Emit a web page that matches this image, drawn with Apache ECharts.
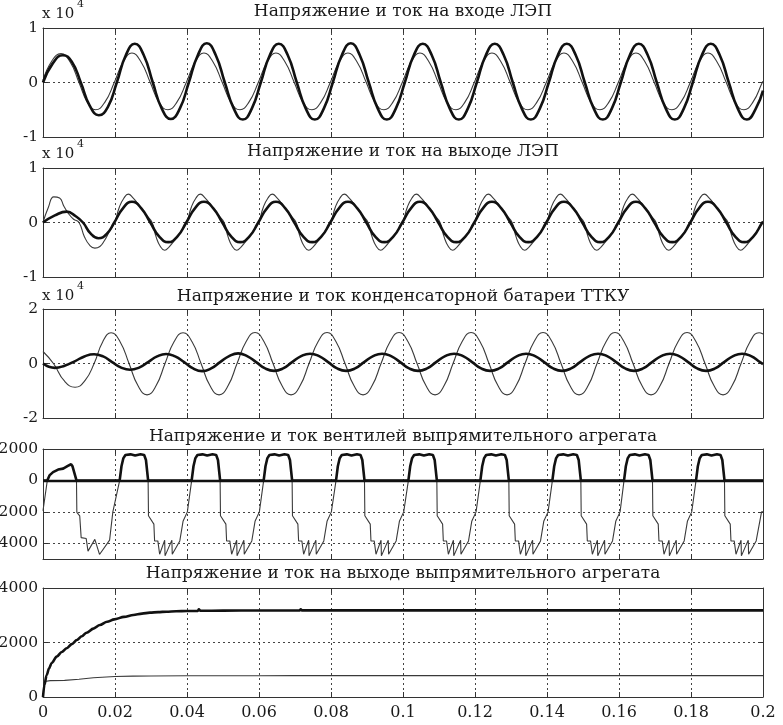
<!DOCTYPE html>
<html>
<head>
<meta charset="utf-8">
<script src="https://cdn.jsdelivr.net/npm/echarts@6/dist/echarts.min.js"></script>
<style>html,body{margin:0;padding:0;background:#fff}#c{width:783px;height:725px}</style>
</head>
<body>
<div id="c"></div>
<script>
// ---------- DATA (time in s) ----------
const titles = [
  'Напряжение и ток на входе ЛЭП',
  'Напряжение и ток на выходе ЛЭП',
  'Напряжение и ток конденсаторной батареи ТТКУ',
  'Напряжение и ток вентилей выпрямительного агрегата',
  'Напряжение и ток на выходе выпрямительного агрегата'
];
const xTicks = [0, 0.02, 0.04, 0.06, 0.08, 0.1, 0.12, 0.14, 0.16, 0.18, 0.2];
const yTicks1 = [-1, 0, 1];
const yTicks2 = [-1, 0, 1];
const yTicks3 = [-2, 0, 2];
const yTicks4 = [-4000, -2000, 0, 2000];
const yTicks5 = [0, 2000, 4000];

// Plot 1 (x 10^4)
const inputThin = [[0,0.04],[0.0025,0.40],[0.005,0.53],[0.0075,0.38],[0.0100,0],[0.0123,-0.36],[0.0146,-0.50],[0.0172,-0.36],[0.0198,0],
 [0.0223,0.38],[0.0247,0.54],[0.0272,0.38],[0.0298,0],[0.0322,-0.36],[0.0347,-0.50],[0.0372,-0.36],[0.0398,0],
 [0.0423,0.38],[0.0447,0.54],[0.0472,0.38],[0.0498,0],[0.0522,-0.36],[0.0547,-0.50],[0.0572,-0.36],[0.0598,0],
 [0.0623,0.38],[0.0647,0.54],[0.0672,0.38],[0.0698,0],[0.0722,-0.36],[0.0747,-0.50],[0.0772,-0.36],[0.0798,0],
 [0.0823,0.38],[0.0847,0.54],[0.0872,0.38],[0.0898,0],[0.0922,-0.36],[0.0947,-0.50],[0.0972,-0.36],[0.0998,0],
 [0.1023,0.38],[0.1047,0.54],[0.1072,0.38],[0.1098,0],[0.1122,-0.36],[0.1147,-0.50],[0.1172,-0.36],[0.1198,0],
 [0.1223,0.38],[0.1247,0.54],[0.1272,0.38],[0.1298,0],[0.1322,-0.36],[0.1347,-0.50],[0.1372,-0.36],[0.1398,0],
 [0.1423,0.38],[0.1447,0.54],[0.1472,0.38],[0.1498,0],[0.1522,-0.36],[0.1547,-0.50],[0.1572,-0.36],[0.1598,0],
 [0.1623,0.38],[0.1647,0.54],[0.1672,0.38],[0.1698,0],[0.1722,-0.36],[0.1747,-0.50],[0.1772,-0.36],[0.1798,0],
 [0.1823,0.38],[0.1847,0.54],[0.1872,0.38],[0.1898,0],[0.1922,-0.36],[0.1947,-0.50],[0.1972,-0.36],[0.1998,0],[0.2,0.02]];
const inputThick = [[0,0],[0.0028,0.36],[0.0055,0.50],[0.008,0.38],[0.0105,0],[0.013,-0.43],[0.0155,-0.60],[0.018,-0.45],[0.0205,0],
 [0.023,0.50],[0.0255,0.71],[0.028,0.50],[0.0305,0],[0.033,-0.48],[0.0355,-0.67],[0.038,-0.48],[0.0405,0],
 [0.043,0.50],[0.0455,0.72],[0.048,0.50],[0.0505,0],[0.053,-0.48],[0.0555,-0.68],[0.058,-0.48],[0.0605,0],
 [0.063,0.50],[0.0655,0.71],[0.068,0.50],[0.0705,0],[0.073,-0.48],[0.0755,-0.68],[0.078,-0.48],[0.0805,0],
 [0.083,0.50],[0.0855,0.72],[0.088,0.50],[0.0905,0],[0.093,-0.48],[0.0955,-0.68],[0.098,-0.48],[0.1005,0],
 [0.103,0.50],[0.1055,0.71],[0.108,0.50],[0.1105,0],[0.113,-0.48],[0.1155,-0.68],[0.118,-0.48],[0.1205,0],
 [0.123,0.50],[0.1255,0.71],[0.128,0.50],[0.1305,0],[0.133,-0.48],[0.1355,-0.68],[0.138,-0.48],[0.1405,0],
 [0.143,0.50],[0.1455,0.71],[0.148,0.50],[0.1505,0],[0.153,-0.48],[0.1555,-0.68],[0.158,-0.48],[0.1605,0],
 [0.163,0.50],[0.1655,0.71],[0.168,0.50],[0.1705,0],[0.173,-0.48],[0.1755,-0.68],[0.178,-0.48],[0.1805,0],
 [0.183,0.50],[0.1855,0.71],[0.188,0.50],[0.1905,0],[0.193,-0.48],[0.1955,-0.68],[0.198,-0.48],[0.2,-0.15]];

// Plot 2 (x 10^4)
const outputThin = [[0,0],[0.0015,0.28],[0.003,0.47],[0.0046,0.45],[0.0058,0.30],[0.007,0.17],[0.0085,0.06],[0.0100,0],[0.0115,-0.26],[0.013,-0.42],[0.0144,-0.47],[0.0158,-0.44],[0.017,-0.34],[0.0185,-0.16],[0.0199,0],
 [0.0212,0.28],[0.0225,0.45],[0.0237,0.52],[0.025,0.45],[0.0265,0.33],[0.0285,0.15],[0.0303,0],[0.0314,-0.26],[0.0326,-0.44],[0.0338,-0.51],[0.035,-0.45],[0.0365,-0.33],[0.0385,-0.15],[0.0399,0],
 [0.0412,0.28],[0.0425,0.45],[0.0437,0.52],[0.045,0.45],[0.0465,0.33],[0.0485,0.15],[0.0503,0],[0.0514,-0.26],[0.0526,-0.44],[0.0538,-0.51],[0.055,-0.45],[0.0565,-0.33],[0.0585,-0.15],[0.0599,0],
 [0.0612,0.28],[0.0625,0.45],[0.0637,0.52],[0.065,0.45],[0.0665,0.33],[0.0685,0.15],[0.0703,0],[0.0714,-0.26],[0.0726,-0.44],[0.0738,-0.51],[0.075,-0.45],[0.0765,-0.33],[0.0785,-0.15],[0.0799,0],
 [0.0812,0.28],[0.0825,0.45],[0.0837,0.52],[0.085,0.45],[0.0865,0.33],[0.0885,0.15],[0.0903,0],[0.0914,-0.26],[0.0926,-0.44],[0.0938,-0.51],[0.095,-0.45],[0.0965,-0.33],[0.0985,-0.15],[0.0999,0],
 [0.1012,0.28],[0.1025,0.45],[0.1037,0.52],[0.105,0.45],[0.1065,0.33],[0.1085,0.15],[0.1103,0],[0.1114,-0.26],[0.1126,-0.44],[0.1138,-0.51],[0.115,-0.45],[0.1165,-0.33],[0.1185,-0.15],[0.1199,0],
 [0.1212,0.28],[0.1225,0.45],[0.1237,0.52],[0.125,0.45],[0.1265,0.33],[0.1285,0.15],[0.1303,0],[0.1314,-0.26],[0.1326,-0.44],[0.1338,-0.51],[0.135,-0.45],[0.1365,-0.33],[0.1385,-0.15],[0.1399,0],
 [0.1412,0.28],[0.1425,0.45],[0.1437,0.52],[0.145,0.45],[0.1465,0.33],[0.1485,0.15],[0.1503,0],[0.1514,-0.26],[0.1526,-0.44],[0.1538,-0.51],[0.155,-0.45],[0.1565,-0.33],[0.1585,-0.15],[0.1599,0],
 [0.1612,0.28],[0.1625,0.45],[0.1637,0.52],[0.165,0.45],[0.1665,0.33],[0.1685,0.15],[0.1703,0],[0.1714,-0.26],[0.1726,-0.44],[0.1738,-0.51],[0.175,-0.45],[0.1765,-0.33],[0.1785,-0.15],[0.1799,0],
 [0.1812,0.28],[0.1825,0.45],[0.1837,0.52],[0.185,0.45],[0.1865,0.33],[0.1885,0.15],[0.1903,0],[0.1914,-0.26],[0.1926,-0.44],[0.1938,-0.51],[0.195,-0.45],[0.1965,-0.33],[0.1985,-0.15],[0.1999,0],[0.2,0.02]];
const outputThick = [[0,0],[0.0033,0.13],[0.0066,0.20],[0.009,0.12],[0.0111,0],[0.0132,-0.20],[0.0154,-0.29],[0.0177,-0.21],[0.0198,0],
 [0.0223,0.27],[0.0247,0.38],[0.0272,0.27],[0.0298,0],[0.0323,-0.26],[0.0348,-0.36],[0.0373,-0.26],[0.0398,0],
 [0.0423,0.27],[0.0447,0.38],[0.0472,0.27],[0.0498,0],[0.0523,-0.26],[0.0548,-0.36],[0.0573,-0.26],[0.0598,0],
 [0.0623,0.27],[0.0647,0.38],[0.0672,0.27],[0.0698,0],[0.0723,-0.26],[0.0748,-0.36],[0.0773,-0.26],[0.0798,0],
 [0.0823,0.27],[0.0847,0.38],[0.0872,0.27],[0.0898,0],[0.0923,-0.26],[0.0948,-0.36],[0.0973,-0.26],[0.0998,0],
 [0.1023,0.27],[0.1047,0.38],[0.1072,0.27],[0.1098,0],[0.1123,-0.26],[0.1148,-0.36],[0.1173,-0.26],[0.1198,0],
 [0.1223,0.27],[0.1247,0.38],[0.1272,0.27],[0.1298,0],[0.1323,-0.26],[0.1348,-0.36],[0.1373,-0.26],[0.1398,0],
 [0.1423,0.27],[0.1447,0.38],[0.1472,0.27],[0.1498,0],[0.1523,-0.26],[0.1548,-0.36],[0.1573,-0.26],[0.1598,0],
 [0.1623,0.27],[0.1647,0.38],[0.1672,0.27],[0.1698,0],[0.1723,-0.26],[0.1748,-0.36],[0.1773,-0.26],[0.1798,0],
 [0.1823,0.27],[0.1847,0.38],[0.1872,0.27],[0.1898,0],[0.1923,-0.26],[0.1948,-0.36],[0.1973,-0.26],[0.1998,0],[0.2,0.01]];

// Plot 3 (x 10^4)
const capThin = [[0,0.44],[0.0029,0],[0.006,-0.65],[0.0089,-0.87],[0.0117,-0.62],[0.0142,0],[0.0166,0.80],[0.0189,1.13],[0.0214,0.80],[0.0239,0],[0.0264,-0.82],[0.0289,-1.15],[0.0314,-0.82],
 [0.0339,0],[0.0364,0.80],[0.0389,1.13],[0.0414,0.80],[0.0439,0],[0.0464,-0.82],[0.0489,-1.15],[0.0514,-0.82],
 [0.0539,0],[0.0564,0.80],[0.0589,1.14],[0.0614,0.80],[0.0639,0],[0.0664,-0.82],[0.0689,-1.15],[0.0714,-0.82],
 [0.0739,0],[0.0764,0.80],[0.0789,1.14],[0.0814,0.80],[0.0839,0],[0.0864,-0.82],[0.0889,-1.15],[0.0914,-0.82],
 [0.0939,0],[0.0964,0.80],[0.0989,1.14],[0.1014,0.80],[0.1039,0],[0.1064,-0.82],[0.1089,-1.15],[0.1114,-0.82],
 [0.1139,0],[0.1164,0.80],[0.1189,1.14],[0.1214,0.80],[0.1239,0],[0.1264,-0.82],[0.1289,-1.15],[0.1314,-0.82],
 [0.1339,0],[0.1364,0.80],[0.1389,1.14],[0.1414,0.80],[0.1439,0],[0.1464,-0.82],[0.1489,-1.15],[0.1514,-0.82],
 [0.1539,0],[0.1564,0.80],[0.1589,1.14],[0.1614,0.80],[0.1639,0],[0.1664,-0.82],[0.1689,-1.15],[0.1714,-0.82],
 [0.1739,0],[0.1764,0.80],[0.1789,1.14],[0.1814,0.80],[0.1839,0],[0.1864,-0.82],[0.1889,-1.15],[0.1914,-0.82],
 [0.1939,0],[0.1964,0.80],[0.1989,1.13],[0.2,1.08]];
const capThick = [[0,0],[0.0033,-0.16],[0.006,-0.08],[0.0088,0.08],[0.0115,0.26],[0.0142,0.34],[0.0167,0.26],[0.0192,0.05],[0.0217,-0.15],[0.0242,-0.23],[0.0267,-0.15],
 [0.0292,0.05],[0.0317,0.26],[0.0342,0.35],[0.0367,0.26],[0.0392,0.05],[0.0417,-0.18],[0.0442,-0.28],[0.0467,-0.18],
 [0.0492,0.05],[0.0517,0.27],[0.0542,0.37],[0.0567,0.27],[0.0592,0.05],[0.0617,-0.18],[0.0642,-0.27],[0.0667,-0.18],
 [0.0692,0.05],[0.0717,0.27],[0.0742,0.36],[0.0767,0.27],[0.0792,0.05],[0.0817,-0.18],[0.0842,-0.27],[0.0867,-0.18],
 [0.0892,0.05],[0.0917,0.27],[0.0942,0.36],[0.0967,0.27],[0.0992,0.05],[0.1017,-0.18],[0.1042,-0.27],[0.1067,-0.18],
 [0.1092,0.05],[0.1117,0.27],[0.1142,0.36],[0.1167,0.27],[0.1192,0.05],[0.1217,-0.18],[0.1242,-0.27],[0.1267,-0.18],
 [0.1292,0.05],[0.1317,0.27],[0.1342,0.36],[0.1367,0.27],[0.1392,0.05],[0.1417,-0.18],[0.1442,-0.27],[0.1467,-0.18],
 [0.1492,0.05],[0.1517,0.27],[0.1542,0.36],[0.1567,0.27],[0.1592,0.05],[0.1617,-0.18],[0.1642,-0.27],[0.1667,-0.18],
 [0.1692,0.05],[0.1717,0.27],[0.1742,0.36],[0.1767,0.27],[0.1792,0.05],[0.1817,-0.18],[0.1842,-0.27],[0.1867,-0.18],
 [0.1892,0.05],[0.1917,0.27],[0.1942,0.36],[0.1967,0.27],[0.1992,0.05],[0.2,-0.02]];

// Plot 4
const valveThin = [[0,-1930],[0.0012,0],[0.0093,0],[0.0094,-2030],[0.0102,-2250],[0.0106,-3640],[0.012,-3700],[0.0125,-4500],[0.0144,-3750],[0.0157,-4710],[0.0185,-3800],[0.0194,-2000],[0.0213,0],
 [0.0292,0],[0.0293,-2250],[0.0308,-2780],[0.031,-3850],[0.0319,-3850],[0.0324,-4700],[0.0338,-3800],[0.0339,-4800],[0.0358,-3800],[0.0359,-4700],[0.038,-3850],[0.0389,-2600],[0.0401,-2000],[0.0413,0],
 [0.0492,0],[0.0493,-2250],[0.0508,-2780],[0.051,-3850],[0.0519,-3850],[0.0524,-4700],[0.0538,-3800],[0.0539,-4800],[0.0558,-3800],[0.0559,-4700],[0.058,-3850],[0.0589,-2600],[0.0601,-2000],[0.0613,0],
 [0.0692,0],[0.0693,-2250],[0.0708,-2780],[0.071,-3850],[0.0719,-3850],[0.0724,-4700],[0.0738,-3800],[0.0739,-4800],[0.0758,-3800],[0.0759,-4700],[0.078,-3850],[0.0789,-2600],[0.0801,-2000],[0.0814,0],
 [0.0893,0],[0.0894,-2250],[0.0909,-2780],[0.0911,-3850],[0.092,-3850],[0.0925,-4700],[0.0939,-3800],[0.094,-4800],[0.0959,-3800],[0.096,-4700],[0.0981,-3850],[0.099,-2600],[0.1002,-2000],[0.1015,0],
 [0.1094,0],[0.1095,-2250],[0.111,-2780],[0.1112,-3850],[0.1121,-3850],[0.1126,-4700],[0.114,-3800],[0.1141,-4800],[0.116,-3800],[0.1161,-4700],[0.1182,-3850],[0.1191,-2600],[0.1203,-2000],[0.1215,0],
 [0.1294,0],[0.1295,-2250],[0.131,-2780],[0.1312,-3850],[0.1321,-3850],[0.1326,-4700],[0.134,-3800],[0.1341,-4800],[0.136,-3800],[0.1361,-4700],[0.1382,-3850],[0.1391,-2600],[0.1403,-2000],[0.1415,0],
 [0.1494,0],[0.1495,-2250],[0.151,-2780],[0.1512,-3850],[0.1521,-3850],[0.1526,-4700],[0.154,-3800],[0.1541,-4800],[0.156,-3800],[0.1561,-4700],[0.1582,-3850],[0.1591,-2600],[0.1603,-2000],[0.1614,0],
 [0.1693,0],[0.1694,-2250],[0.1709,-2780],[0.1711,-3850],[0.172,-3850],[0.1725,-4700],[0.1739,-3800],[0.174,-4800],[0.1759,-3800],[0.176,-4700],[0.1781,-3850],[0.179,-2600],[0.1802,-2000],[0.1814,0],
 [0.1893,0],[0.1894,-2250],[0.1909,-2780],[0.1911,-3850],[0.192,-3850],[0.1925,-4700],[0.1939,-3800],[0.194,-4800],[0.1959,-3800],[0.196,-4700],[0.1981,-3850],[0.1996,-2000],[0.2,-2000]];
const valveThick = [[0,0],[0.0012,0],[0.0018,320],[0.0028,530],[0.0042,690],[0.0056,750],[0.0069,920],[0.0078,1030],[0.0082,900],[0.0093,0],
 [0.0213,0],[0.0218,900],[0.0223,1400],[0.0229,1620],[0.0243,1660],[0.0256,1580],[0.0271,1660],[0.0281,1620],[0.0286,1300],[0.0292,0],
 [0.0413,0],[0.0418,900],[0.0423,1400],[0.0429,1620],[0.0443,1660],[0.0456,1580],[0.0471,1660],[0.0481,1620],[0.0486,1300],[0.0492,0],
 [0.0613,0],[0.0618,900],[0.0623,1400],[0.0629,1620],[0.0643,1660],[0.0656,1580],[0.0671,1660],[0.0681,1620],[0.0686,1300],[0.0692,0],
 [0.0814,0],[0.0819,900],[0.0824,1400],[0.083,1620],[0.0844,1660],[0.0857,1580],[0.0872,1660],[0.0882,1620],[0.0887,1300],[0.0893,0],
 [0.1015,0],[0.102,900],[0.1025,1400],[0.1031,1620],[0.1045,1660],[0.1058,1580],[0.1073,1660],[0.1083,1620],[0.1088,1300],[0.1094,0],
 [0.1215,0],[0.122,900],[0.1225,1400],[0.1231,1620],[0.1245,1660],[0.1258,1580],[0.1273,1660],[0.1283,1620],[0.1288,1300],[0.1294,0],
 [0.1415,0],[0.142,900],[0.1425,1400],[0.1431,1620],[0.1445,1660],[0.1458,1580],[0.1473,1660],[0.1483,1620],[0.1488,1300],[0.1494,0],
 [0.1614,0],[0.1619,900],[0.1624,1400],[0.163,1620],[0.1644,1660],[0.1657,1580],[0.1672,1660],[0.1682,1620],[0.1687,1300],[0.1693,0],
 [0.1814,0],[0.1819,900],[0.1824,1400],[0.183,1620],[0.1844,1660],[0.1857,1580],[0.1872,1660],[0.1882,1620],[0.1887,1300],[0.1893,0],[0.2,0]];

// Plot 5
const rectThin = [[0,560],[0.002,600],[0.006,610],[0.01,650],[0.014,705],[0.02,750],[0.025,765],[0.03,772],[0.04,778],[0.05,782],[0.06,780],[0.07,786],[0.08,784],[0.09,788],[0.1,786],[0.11,790],[0.12,786],[0.13,788],[0.14,786],[0.15,790],[0.16,786],[0.17,788],[0.18,786],[0.19,786],[0.2,786]];
const rectThick = [[0,0],[0.0004,450],[0.001,800],[0.0017,1050],[0.0024,1250],[0.0038,1480],[0.0052,1650],[0.0066,1790],[0.008,1940],[0.0094,2090],[0.0108,2230],[0.0121,2360],[0.014,2510],[0.0158,2640],[0.0178,2760],[0.0198,2850],[0.0225,2940],[0.0251,3010],[0.0275,3060],[0.0297,3095],[0.032,3115],[0.0343,3130],[0.037,3145],[0.04,3155],[0.043,3160],[0.0433,3215],[0.0437,3165],[0.05,3170],[0.06,3175],[0.0713,3178],[0.0716,3215],[0.0719,3178],[0.09,3180],[0.1,3180],[0.12,3180],[0.14,3180],[0.16,3180],[0.18,3180],[0.2,3180]];

// ---------- LAYOUT / STYLE ----------
const FONT = 'DejaVu Serif';
const TXT = '#1a1a1a';
const AX = '#333';
const gridTops = [28, 168, 309, 449, 588];
const gridHeights = [109, 109, 109, 110, 109];
const yRanges = [[-1, 1, yTicks1], [-1, 1, yTicks2], [-2, 2, yTicks3], [-5000, 2000, yTicks4], [0, 4000, yTicks5]];
const plots = [
  [inputThin, inputThick, true],
  [outputThin, outputThick, true],
  [capThin, capThick, true],
  [valveThin, valveThick, false],
  [rectThin, rectThick, false]
];

const grid = [], xAxis = [], yAxis = [], series = [], title = [];
for (let i = 0; i < 5; i++) {
  grid.push({ left: 43, width: 720, top: gridTops[i], height: gridHeights[i], containLabel: false, outerBoundsMode: 'none' });
  const split = { show: true, lineStyle: { color: '#444', width: 1, type: [2, 3] } };
  xAxis.push({
    type: 'value', gridIndex: i, min: 0, max: 0.2, position: 'bottom',
    axisTick: { show: true, inside: true, length: 5, customValues: xTicks, lineStyle: { color: AX } },
    axisLine: { show: true, onZero: false, lineStyle: { color: AX, width: 1 } },
    axisLabel: { show: i === 4, customValues: xTicks, margin: 8, color: TXT, fontFamily: FONT, fontSize: 16, formatter: v => String(+(+v).toFixed(2)) },
    splitLine: split
  });
  xAxis.push({
    type: 'value', gridIndex: i, min: 0, max: 0.2, position: 'top',
    axisTick: { show: true, inside: true, length: 5, customValues: xTicks, lineStyle: { color: AX } },
    axisLine: { show: true, onZero: false, lineStyle: { color: AX, width: 1 } },
    axisLabel: { show: false }, splitLine: { show: false }
  });
  const [mn, mx, ticks] = yRanges[i];
  yAxis.push({
    type: 'value', gridIndex: i, min: mn, max: mx, position: 'left',
    axisTick: { show: true, inside: true, length: 5, customValues: ticks, lineStyle: { color: AX } },
    axisLine: { show: true, onZero: false, lineStyle: { color: AX, width: 1 } },
    axisLabel: { show: true, customValues: ticks, margin: 5, color: TXT, fontFamily: FONT, fontSize: 15.5, formatter: v => String(v) },
    splitLine: split
  });
  yAxis.push({
    type: 'value', gridIndex: i, min: mn, max: mx, position: 'right',
    axisTick: { show: true, inside: true, length: 5, customValues: ticks, lineStyle: { color: AX } },
    axisLine: { show: true, onZero: false, lineStyle: { color: AX, width: 1 } },
    axisLabel: { show: false }, splitLine: { show: false }
  });
  const [thin, thick, smooth] = plots[i];
  series.push({
    type: 'line', xAxisIndex: 2 * i, yAxisIndex: 2 * i, data: thin, showSymbol: false, symbol: 'none',
    smooth: smooth ? 0.5 : false, lineStyle: { color: '#3a3a3a', width: 1.1 }, z: 3
  });
  const thickS = {
    type: 'line', xAxisIndex: 2 * i, yAxisIndex: 2 * i, data: thick, showSymbol: false, symbol: 'none',
    smooth: smooth ? 0.5 : (i === 4 ? 0.3 : false), smoothMonotone: i === 4 ? 'x' : undefined,
    lineStyle: { color: '#111', width: 2.6 }, z: 4
  };
  if (i === 3) {
    thickS.markLine = { silent: true, symbol: 'none', label: { show: false }, animation: false,
      lineStyle: { color: '#111', width: 2.4, type: 'solid' }, data: [{ yAxis: 0 }] };
  }
  series.push(thickS);
}
const titleTops = [3, 143, 288, 428, 565];
titles.forEach((t, i) => title.push({
  text: t, left: 403, top: titleTops[i], textAlign: 'center', padding: 0,
  textStyle: { fontFamily: FONT, fontSize: 17, fontWeight: 'normal', color: TXT }
}));
const expTops = [7, 147, 289];
expTops.forEach(tp => {
  title.push({ text: 'x 10', left: 42, top: tp, padding: 0, textStyle: { fontFamily: FONT, fontSize: 15, fontWeight: 'normal', color: TXT } });
  title.push({ text: '4', left: 77, top: tp - 8, padding: 0, textStyle: { fontFamily: FONT, fontSize: 11, fontWeight: 'normal', color: TXT } });
});

const chart = echarts.init(document.getElementById('c'), null, { renderer: 'canvas' });
chart.setOption({ animation: false, backgroundColor: '#fff', title, grid, xAxis, yAxis, series });
</script>
</body>
</html>
